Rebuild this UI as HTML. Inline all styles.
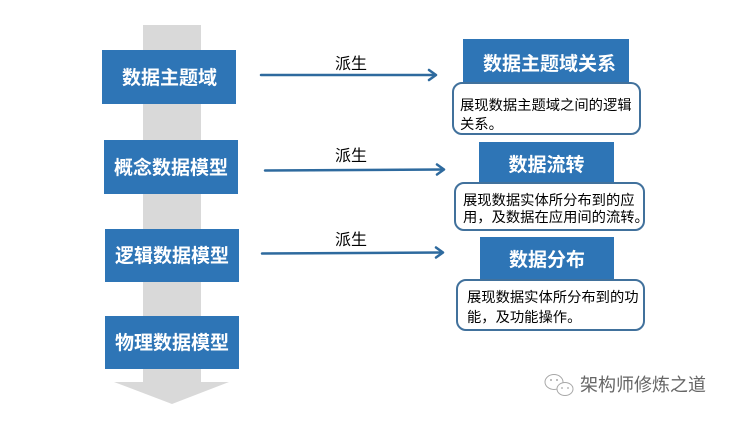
<!DOCTYPE html>
<html><head><meta charset="utf-8"><style>
html,body{margin:0;padding:0;background:#fff;}
body{width:729px;height:421px;overflow:hidden;}
svg text{font-family:"Liberation Sans","Noto Sans CJK SC",sans-serif;}
</style></head><body>
<svg width="729" height="421" viewBox="0 0 729 421" xmlns="http://www.w3.org/2000/svg">
<!-- gray flow arrow -->
<rect x="143" y="25" width="58" height="358" fill="#D9D9D9"/>
<polygon points="114,382 229,382 172,404" fill="#D9D9D9"/>
<!-- left boxes -->
<rect x="102" y="50" width="134" height="54" fill="#2E75B6"/>
<rect x="104" y="140" width="134" height="54" fill="#2E75B6"/>
<rect x="105" y="229" width="134" height="53" fill="#2E75B6"/>
<rect x="105" y="316" width="134" height="53" fill="#2E75B6"/>
<g font-size="19" font-weight="bold" fill="#fff" text-anchor="middle">
<text x="169.5" y="84">数据主题域</text>
<text x="171" y="174">概念数据模型</text>
<text x="172" y="262">逻辑数据模型</text>
<text x="172" y="349">物理数据模型</text>
</g>
<!-- arrows -->
<g stroke="#2E6A9E" stroke-width="2.5" fill="none" stroke-linecap="round" stroke-linejoin="round">
<line x1="261" y1="75" x2="435" y2="75"/>
<polyline points="429,70 436,75 429,80"/>
<line x1="265" y1="170.5" x2="443" y2="169.5"/>
<polyline points="437,164.5 444,169.5 437,174.5"/>
<line x1="262" y1="253.5" x2="442" y2="252.5"/>
<polyline points="436,247.5 443,252.5 436,257.5"/>
</g>
<g font-size="16" fill="#000" text-anchor="middle">
<text x="351" y="69">派生</text>
<text x="351" y="161">派生</text>
<text x="351" y="245">派生</text>
</g>
<!-- right title boxes -->
<rect x="463" y="39" width="166" height="49" fill="#2E75B6"/>
<rect x="479" y="142" width="135" height="46" fill="#2E75B6"/>
<rect x="480" y="237" width="134" height="46" fill="#2E75B6"/>
<!-- desc boxes -->
<rect x="453" y="83" width="187" height="51" rx="9" ry="9" fill="#fff" stroke="#41719C" stroke-width="2"/>
<rect x="455" y="183" width="189" height="47" rx="9" ry="9" fill="#fff" stroke="#41719C" stroke-width="2"/>
<rect x="457" y="280" width="187" height="50" rx="9" ry="9" fill="#fff" stroke="#41719C" stroke-width="2"/>
<g font-size="19" font-weight="bold" fill="#fff" text-anchor="middle">
<text x="549.5" y="70">数据主题域关系</text>
<text x="546.5" y="171">数据流转</text>
<text x="547" y="266">数据分布</text>
</g>
<g font-size="14.3" fill="#000">
<text x="460" y="110">展现数据主题域之间的逻辑</text>
<text x="460" y="129">关系。</text>
<text x="463" y="205">展现数据实体所分布到的应</text>
<text x="463" y="222">用，及数据在应用间的流转。</text>
<text x="467" y="302">展现数据实体所分布到的功</text>
<text x="467" y="322">能，及功能操作。</text>
</g>
<!-- watermark -->
<g fill="none" stroke="#a8a8a8" stroke-width="1">
<ellipse cx="554" cy="382" rx="9" ry="7.5"/>
<ellipse cx="565" cy="389" rx="8" ry="6.5" fill="#fff"/>
</g>
<g fill="#a8a8a8">
<circle cx="551" cy="380" r="1"/><circle cx="557" cy="380" r="1"/>
<circle cx="562" cy="388" r="0.9"/><circle cx="568" cy="388" r="0.9"/>
</g>
<text x="580" y="391" font-size="18" fill="#666">架构师修炼之道</text>
</svg>
</body></html>
